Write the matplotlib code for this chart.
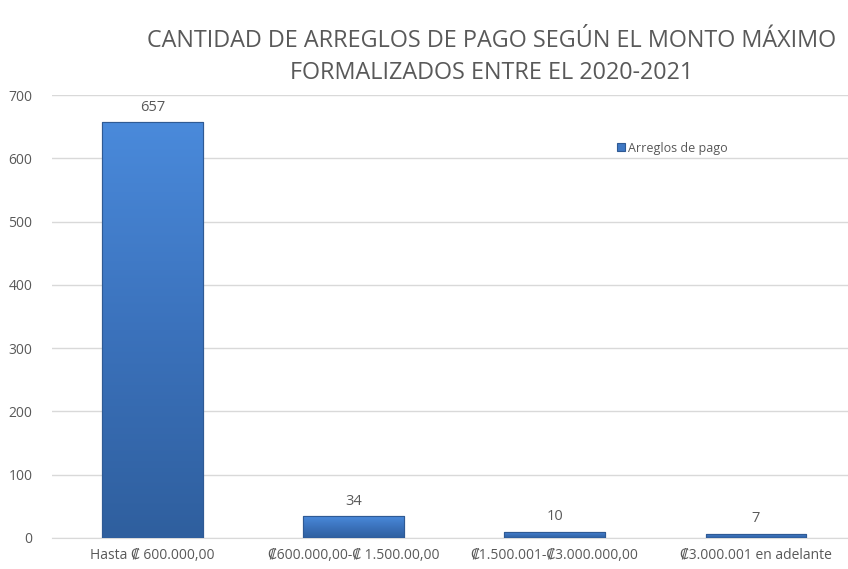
import matplotlib
matplotlib.use("Agg")
import matplotlib.pyplot as plt
import numpy as np
from matplotlib.colors import LinearSegmentedColormap

categories = ["Hasta ₡ 600.000,00", "₡600.000,00-₡ 1.500.00,00",
              "₡1.500.001-₡3.000.000,00", "₡3.000.001 en adelante"]
values = [657, 34, 10, 7]
series_name = "Arreglos de pago"
title = "CANTIDAD DE ARREGLOS DE PAGO SEGÚN EL MONTO MÁXIMO\nFORMALIZADOS ENTRE EL 2020-2021"
yticks = [0, 100, 200, 300, 400, 500, 600, 700]

plt.rcParams['font.family'] = ['Open Sans', 'DejaVu Sans']
gray = "#595959"

fig = plt.figure(figsize=(8.48, 5.69), dpi=100)
ax = fig.add_axes([0.061, 0.0545, 0.939, 0.7785])

x = np.arange(len(categories))
bars = ax.bar(x, values, width=0.5, color="#3F78C4", edgecolor="#2F5A94",
              linewidth=0.8, label=series_name, zorder=3)

cmap = LinearSegmentedColormap.from_list("g", ["#2F5F9E", "#3B72BC", "#4A8ADB"])
grad = np.linspace(0, 1, 256).reshape(-1, 1)
for b in bars:
    x0, y0 = b.get_x(), b.get_y()
    w, h = b.get_width(), b.get_height()
    im = ax.imshow(grad, cmap=cmap, aspect='auto', origin='lower',
                   extent=[x0, x0 + w, y0, y0 + h], zorder=3.5)
    im.set_clip_path(b)
    ax.add_patch(plt.Rectangle((x0, y0), w, h, fill=False, edgecolor="#2F5A94",
                               linewidth=0.8, zorder=4))

for xi, v in zip(x, values):
    ax.text(xi, v + 12, str(v), ha='center', va='bottom', fontsize=10.5, color=gray)

ax.set_xlim(-0.5, 3.458)
ax.set_ylim(0, 700)
ax.set_yticks(yticks)
ax.set_xticks(x)
ax.set_xticklabels(categories, fontsize=10, color=gray)
ax.tick_params(axis='y', labelsize=10, colors=gray, length=0, pad=14)
ax.tick_params(axis='x', length=0, pad=7)
ax.grid(axis='y', color="#D9D9D9", linewidth=1, zorder=0)
for s in ['top', 'right', 'left']:
    ax.spines[s].set_visible(False)
ax.spines['bottom'].set_color("#D9D9D9")

leg = ax.legend(loc='upper left', bbox_to_anchor=(0.696, 0.92), frameon=False,
                fontsize=9, handlelength=0.6, handleheight=0.6, handletextpad=0.3,
                labelcolor=gray)

fig.text(0.580, 0.949, title, ha='center', va='top', fontsize=16.8, color=gray,
         linespacing=1.45)

fig.savefig("out.png", dpi=100)
